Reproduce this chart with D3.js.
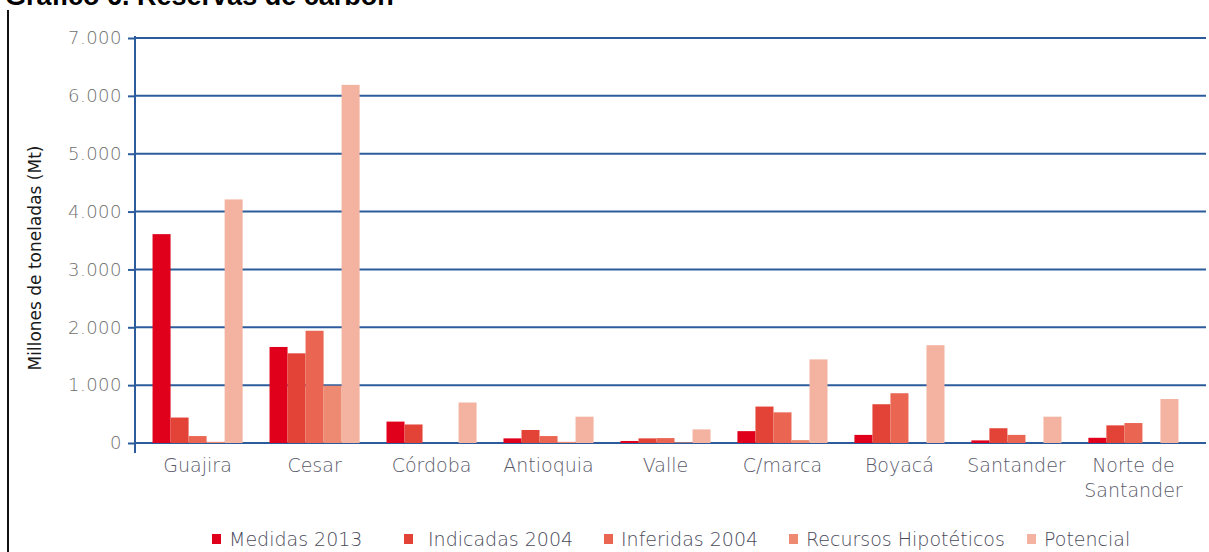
<!DOCTYPE html>
<html>
<head>
<meta charset="utf-8">
<script src="https://cdn.jsdelivr.net/npm/d3@7"></script>
<style>
  body { margin: 0; background: #fff; }
  svg { display: block; }
</style>
</head>
<body>
<div id="chart"></div>
<script>
var categories = ["Guajira", "Cesar", "Córdoba", "Antioquia", "Valle", "C/marca", "Boyacá", "Santander", "Norte de Santander"];
var seriesNames = ["Medidas 2013", "Indicadas 2004", "Inferidas 2004", "Recursos Hipotéticos", "Potencial"];
var medidas2013 = [3610, 1660, 370, 80, 35, 205, 140, 45, 90];
var indicadas2004 = [440, 1550, 320, 225, 80, 630, 670, 255, 305];
var inferidas2004 = [120, 1940, 0, 120, 85, 530, 860, 140, 345];
var recursosHipoteticos = [20, 990, 0, 20, 10, 50, 0, 0, 0];
var potencial = [4210, 6190, 700, 455, 235, 1445, 1690, 455, 760];
var yTicks = [0, 1000, 2000, 3000, 4000, 5000, 6000, 7000];

var colors = ["#e1001b", "#e34336", "#ea6652", "#ef8a72", "#f4b3a0"];
var allSeries = [medidas2013, indicadas2004, inferidas2004, recursosHipoteticos, potencial];

var width = 1209, height = 552;
var font = "'DejaVu Sans', sans-serif";

var svg = d3.select("#chart").append("svg")
  .attr("width", width)
  .attr("height", height);

// title, cut off at the top like the source image
svg.append("text")
  .attr("x", 5)
  .attr("y", 5)
  .style("font-family", "'Liberation Sans', Arial, sans-serif")
  .style("font-weight", "bold")
  .style("font-size", "27px")
  .style("fill", "#000")
  .text("Gráfico 6. Reservas de carbón");

// left frame line
svg.append("line")
  .attr("x1", 8).attr("x2", 8)
  .attr("y1", 10).attr("y2", height)
  .attr("stroke", "#111")
  .attr("stroke-width", 2);

var x0 = d3.scaleBand()
  .domain(categories)
  .range([135, 1196])
  .paddingInner(0.23)
  .paddingOuter(0.15);

var x1 = d3.scaleBand()
  .domain(d3.range(seriesNames.length))
  .range([0, x0.bandwidth()]);

var y = d3.scaleLinear()
  .domain([0, 7000])
  .range([443, 38]);

var locale = d3.formatLocale({decimal: ",", thousands: ".", grouping: [3], currency: ["$", ""]});
var fmt = locale.format(",");

var blue = "#2d5c9c";

// gridlines
svg.append("g").selectAll("line")
  .data(yTicks)
  .enter().append("line")
  .attr("x1", 135).attr("x2", 1206)
  .attr("y1", function(d) { return y(d); })
  .attr("y2", function(d) { return y(d); })
  .attr("stroke", blue)
  .attr("stroke-width", 2);

// y axis
var yAxis = svg.append("g")
  .attr("transform", "translate(135,0)")
  .call(d3.axisLeft(y).tickValues(yTicks).tickFormat(fmt).tickSize(7).tickPadding(6));
yAxis.select(".domain").remove();
yAxis.selectAll(".tick line").attr("stroke", blue).attr("stroke-width", 2);
yAxis.selectAll(".tick text")
  .style("font-family", font)
  .style("font-size", "18px")
  .style("font-weight", "200")
  .style("letter-spacing", "0.5px")
  .style("fill", "#6e6e6e");

svg.append("line")
  .attr("x1", 135).attr("x2", 135)
  .attr("y1", y(7000) - 2).attr("y2", 453)
  .attr("stroke", blue)
  .attr("stroke-width", 2);

// y axis title
svg.append("text")
  .attr("transform", "translate(41,258) rotate(-90)")
  .attr("text-anchor", "middle")
  .style("font-family", font)
  .style("font-size", "17px")
  .style("fill", "#1a1a1a")
  .text("Millones de toneladas  (Mt)");

// bars
var groups = svg.append("g").selectAll("g")
  .data(categories)
  .enter().append("g")
  .attr("transform", function(d) { return "translate(" + x0(d) + ",0)"; });

groups.selectAll("rect")
  .data(function(d, i) {
    return allSeries.map(function(s, j) { return {k: j, v: s[i]}; });
  })
  .enter().append("rect")
  .attr("x", function(d) { return x1(d.k); })
  .attr("width", x1.bandwidth())
  .attr("y", function(d) { return y(d.v); })
  .attr("height", function(d) { return y(0) - y(d.v); })
  .attr("fill", function(d) { return colors[d.k]; });

// category labels
var catLabels = svg.append("g").selectAll("text")
  .data(categories)
  .enter().append("text")
  .attr("text-anchor", "middle")
  .attr("x", function(d) { return x0(d) + x0.bandwidth() / 2; })
  .attr("y", 472)
  .style("font-family", font)
  .style("font-size", "19px")
  .style("font-weight", "200")
  .style("fill", "#5a5a6a");

catLabels.each(function(d) {
  var t = d3.select(this);
  var parts = d == "Norte de Santander" ? ["Norte de", "Santander"] : [d];
  parts.forEach(function(p, i) {
    t.append("tspan")
      .attr("x", x0(d) + x0.bandwidth() / 2)
      .attr("dy", i == 0 ? 0 : 25)
      .text(p);
  });
});

// legend
var legendX = [212, 404, 604, 789, 1027];
var legend = svg.append("g").selectAll("g")
  .data(seriesNames)
  .enter().append("g")
  .attr("transform", function(d, i) { return "translate(" + legendX[i] + ",538)"; });

legend.append("rect")
  .attr("x", 0).attr("y", -4)
  .attr("width", 9).attr("height", 10)
  .attr("fill", function(d, i) { return colors[i]; });

legend.append("text")
  .attr("x", function(d, i) { return i == 1 ? 24 : 17; })
  .attr("y", 8)
  .style("font-family", font)
  .style("font-size", "19px")
  .style("font-weight", "200")
  .style("fill", "#4a4a5a")
  .text(function(d) { return d; });
</script>
</body>
</html>
